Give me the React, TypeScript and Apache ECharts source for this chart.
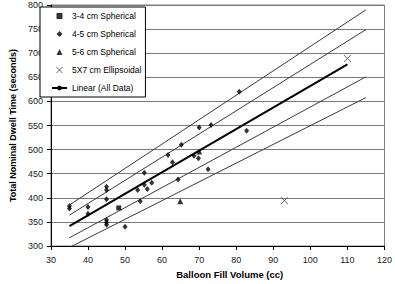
import React, { useEffect, useRef } from "react";
import * as echarts from "echarts";

// ---- data ----
const xTicks = { min: 30, max: 120, interval: 10 };
const yTicks = { min: 300, max: 800, interval: 50 };

const sphere34: number[][] = [[48.3, 379]];

const sphere45: number[][] = [
  [35, 383], [35, 378], [40, 381], [40, 367], [45, 423], [45, 416], [45, 397],
  [45, 354], [45, 349], [45, 344], [50, 340], [53.4, 416], [54.1, 393],
  [55.2, 452], [55.2, 427], [56, 418], [57.2, 431], [61.6, 489], [62.8, 474],
  [65.2, 510], [64.3, 438], [68.6, 487], [69.8, 482], [70, 546], [73.2, 551],
  [72.4, 459], [80.8, 620], [82.8, 539],
];

const sphere56: number[][] = [[64.9, 393], [70, 496]];

const ellipsoid: number[][] = [[93, 394], [110, 689]];

const linearFit: number[][] = [[35, 341], [110, 677]];

const bandUpperOuter: number[][] = [[35, 385], [115, 790]];
const bandUpperInner: number[][] = [[35, 364], [115, 749]];
const bandLowerInner: number[][] = [[35, 317], [115, 651]];
const bandLowerOuter: number[][] = [[35, 297], [115, 608]];

const legendNames = [
  "3-4 cm Spherical",
  "4-5 cm Spherical",
  "5-6 cm Spherical",
  "5X7 cm Ellipsoidal",
  "Linear (All Data)",
];

const xName = "Balloon Fill Volume (cc)";
const yName = "Total Nominal Dwell Time (seconds)";

const FONT = "'Liberation Sans', Arial, sans-serif";
const X_PATH = "path://M0,0L10,10M10,0L0,10";
const SQ_PATH = "path://M0,0L10,0L10,10L0,10Z";
const DIA_PATH = "path://M5,0L10,5L5,10L0,5Z";
const TRI_PATH = "path://M5,0L10,10L0,10Z";

export default function App() {
  const ref = useRef<HTMLDivElement>(null);

  useEffect(() => {
    if (!ref.current) return;
    const chart = echarts.init(ref.current, undefined, { renderer: "svg" });

    const band = (name: string, data: number[][]) => ({
      name,
      type: "line",
      data,
      symbol: "none",
      silent: true,
      lineStyle: { color: "#3a3a3a", width: 1 },
      z: 2,
    });

    chart.setOption({
      animation: false,
      backgroundColor: "#fff",
      grid: {
        left: 40,
        right: 10,
        top: 5,
        bottom: 36,
        show: true,
        borderColor: "#808080",
        borderWidth: 1,
      },
      legend: {
        orient: "vertical",
        left: 40,
        top: 7,
        padding: [4, 4, 4, 11],
        itemWidth: 15,
        itemHeight: 6,
        itemGap: 8,
        symbolKeepAspect: true,
        backgroundColor: "#fff",
        borderColor: "#000",
        borderWidth: 1,
        borderRadius: 0,
        textStyle: { fontFamily: FONT, fontSize: 8.5, color: "#000", lineHeight: 10 },
        data: [
          { name: legendNames[0], icon: SQ_PATH, itemStyle: { color: "#000" } },
          { name: legendNames[1], icon: DIA_PATH, itemStyle: { color: "#000" } },
          { name: legendNames[2], icon: TRI_PATH, itemStyle: { color: "#000" } },
          {
            name: legendNames[3],
            icon: X_PATH,
            itemStyle: { color: "transparent", borderColor: "#444", borderWidth: 1 },
          },
          { name: legendNames[4] },
        ],
      },
      xAxis: {
        type: "value",
        min: xTicks.min,
        max: xTicks.max,
        interval: xTicks.interval,
        name: xName,
        nameLocation: "middle",
        nameGap: 23,
        nameTextStyle: {
          fontFamily: FONT,
          fontSize: 9.5,
          fontWeight: "bold",
          color: "#000",
          padding: [0, 0, 0, 24],
        },
        axisLine: { show: true, lineStyle: { color: "#000", width: 1 } },
        axisTick: { show: true, length: 4, lineStyle: { color: "#000" } },
        axisLabel: { fontFamily: FONT, fontSize: 9, color: "#222", margin: 9 },
        splitLine: { show: false },
      },
      yAxis: {
        type: "value",
        min: yTicks.min,
        max: yTicks.max,
        interval: yTicks.interval,
        name: yName,
        nameLocation: "middle",
        nameGap: 30,
        nameTextStyle: {
          fontFamily: FONT,
          fontSize: 9,
          fontWeight: "bold",
          color: "#000",
        },
        axisLine: { show: true, lineStyle: { color: "#000", width: 1 } },
        axisTick: { show: true, length: 4, lineStyle: { color: "#000" } },
        axisLabel: { fontFamily: FONT, fontSize: 9, color: "#222", margin: 8 },
        splitLine: { show: true, lineStyle: { color: "#7a7a7a", width: 1 } },
      },
      series: [
        band("upperOuter", bandUpperOuter),
        band("upperInner", bandUpperInner),
        band("lowerInner", bandLowerInner),
        band("lowerOuter", bandLowerOuter),
        {
          name: legendNames[4],
          type: "line",
          data: linearFit,
          symbol: "none",
          lineStyle: { color: "#000", width: 2 },
          itemStyle: { color: "#000" },
          z: 3,
        },
        {
          name: legendNames[0],
          type: "scatter",
          data: sphere34,
          symbol: "rect",
          symbolSize: 5,
          itemStyle: { color: "#000" },
          z: 4,
        },
        {
          name: legendNames[1],
          type: "scatter",
          data: sphere45,
          symbol: "diamond",
          symbolSize: [5, 6],
          itemStyle: { color: "#000" },
          z: 4,
        },
        {
          name: legendNames[2],
          type: "scatter",
          data: sphere56,
          symbol: "triangle",
          symbolSize: 6,
          itemStyle: { color: "#000" },
          z: 4,
        },
        {
          name: legendNames[3],
          type: "scatter",
          data: ellipsoid,
          symbol: X_PATH,
          symbolSize: 7,
          itemStyle: { color: "transparent", borderColor: "#444", borderWidth: 1 },
          z: 4,
        },
      ],
    });

    return () => chart.dispose();
  }, []);

  return (
    <div
      ref={ref}
      style={{ position: "fixed", left: 0, top: 0, width: 395, height: 284 }}
    />
  );
}
